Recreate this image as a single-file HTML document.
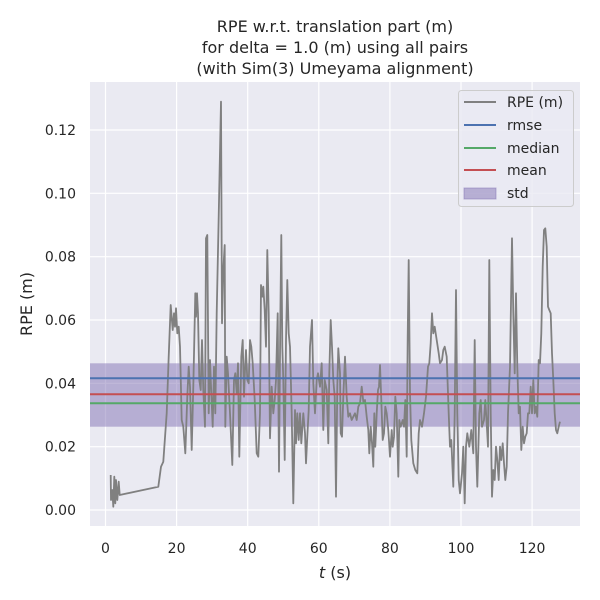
<!DOCTYPE html>
<html><head><meta charset="utf-8"><style>
html,body{margin:0;padding:0;background:#fff;}
svg{display:block;font-family:"DejaVu Sans","Liberation Sans",sans-serif;}
</style></head><body>
<svg id="s" width="600" height="600" viewBox="0 0 600 600">
<rect width="600" height="600" fill="#fff"/>
<rect x="90" y="82" width="490" height="444" fill="#eaeaf2"/>
<g stroke="#fff" stroke-width="1.2">
<line x1="105.5" y1="82" x2="105.5" y2="526"/><line x1="176.6" y1="82" x2="176.6" y2="526"/>
<line x1="247.7" y1="82" x2="247.7" y2="526"/><line x1="318.8" y1="82" x2="318.8" y2="526"/>
<line x1="389.9" y1="82" x2="389.9" y2="526"/><line x1="461" y1="82" x2="461" y2="526"/>
<line x1="532.1" y1="82" x2="532.1" y2="526"/>
<line x1="90" y1="510" x2="580" y2="510"/><line x1="90" y1="446.7" x2="580" y2="446.7"/>
<line x1="90" y1="383.3" x2="580" y2="383.3"/><line x1="90" y1="320" x2="580" y2="320"/>
<line x1="90" y1="256.7" x2="580" y2="256.7"/><line x1="90" y1="193.3" x2="580" y2="193.3"/>
<line x1="90" y1="130" x2="580" y2="130"/>
</g>
<rect x="90" y="363.3" width="490" height="63.4" fill="#8172b3" fill-opacity="0.5"/>
<polyline id="pl" fill="none" stroke="#808080" stroke-width="1.8" stroke-linejoin="round" points=""/>
<line x1="90" y1="378.3" x2="580" y2="378.3" stroke="#4c72b0" stroke-width="2"/>
<line x1="90" y1="403.3" x2="580" y2="403.3" stroke="#55a868" stroke-width="2"/>
<line x1="90" y1="394.3" x2="580" y2="394.3" stroke="#c44e52" stroke-width="2"/>
<g font-size="14" fill="#262626" text-anchor="end">
<text x="76" y="515">0.00</text><text x="76" y="451.7">0.02</text><text x="76" y="388.3">0.04</text>
<text x="76" y="325">0.06</text><text x="76" y="261.7">0.08</text><text x="76" y="198.3">0.10</text>
<text x="76" y="135">0.12</text>
</g>
<g font-size="14" fill="#262626" text-anchor="middle">
<text x="105.5" y="553">0</text><text x="176.6" y="553">20</text><text x="247.7" y="553">40</text>
<text x="318.8" y="553">60</text><text x="389.9" y="553">80</text><text x="461" y="553">100</text>
<text x="532.1" y="553">120</text>
<text x="335" y="578" font-size="16"><tspan font-style="italic">t</tspan> (s)</text>
<text x="335" y="32" font-size="16">RPE w.r.t. translation part (m)</text>
<text x="335" y="53" font-size="16">for delta = 1.0 (m) using all pairs</text>
<text x="335" y="74" font-size="16">(with Sim(3) Umeyama alignment)</text>
<text transform="translate(32,304) rotate(-90)" font-size="16">RPE (m)</text>
</g>
<rect x="458.5" y="90.5" width="115" height="116" rx="3" fill="#eaeaf2" fill-opacity="0.8" stroke="#cccccc"/>
<g stroke-width="2">
<line x1="464" y1="102" x2="496" y2="102" stroke="#808080"/>
<line x1="464" y1="125" x2="496" y2="125" stroke="#4c72b0"/>
<line x1="464" y1="148" x2="496" y2="148" stroke="#55a868"/>
<line x1="464" y1="170" x2="496" y2="170" stroke="#c44e52"/>
</g>
<rect x="464" y="188" width="32" height="11" fill="#8172b3" fill-opacity="0.5" stroke="#8172b3" stroke-opacity="0.5"/>
<g font-size="14" fill="#262626">
<text x="507" y="107">RPE (m)</text><text x="507" y="130">rmse</text><text x="507" y="153">median</text>
<text x="507" y="175">mean</text><text x="507" y="198">std</text>
</g>
</svg>
<script>
var a=[62,1185,63,1260,67,1230,70,1280,73,1190,76,1270,78,1200,82,1260,86,1205,89,1245,205,1220,213,1160,220,1145,230,1000,236,830,242,675,248,750,252,700,255,740,258,685,262,760,266,740,270,800,275,1020,280,1040,286,1120,292,950,296,860,300,920,305,1110,310,920,316,640,318,710,321,640,324,700,328,900,332,930,336,780,340,930,345,1040,348,475,352,465,356,1000,360,840,364,940,368,1040,372,860,376,1000,380,700,386,410,393,65,396,730,400,570,404,495,406,1040,410,830,414,880,420,1000,427,1155,432,900,436,880,440,940,444,850,448,1130,454,830,458,780,462,950,465,870,468,810,472,900,476,910,480,780,484,800,488,850,494,960,500,1120,505,1130,510,1000,513,615,517,650,520,620,524,690,528,800,532,510,536,700,540,1075,545,920,550,1000,554,960,558,900,563,700,567,1175,571,720,574,465,577,800,580,900,584,1140,588,780,592,600,596,760,600,800,605,1000,610,1270,615,990,618,1090,622,1000,626,1080,630,1000,634,1090,640,1000,645,1060,648,1150,652,1070,656,990,660,800,666,720,670,910,675,1000,680,900,684,880,690,920,695,850,700,1050,704,900,710,930,715,1090,718,880,722,720,726,800,730,900,734,950,738,1250,742,920,745,805];
var b=[30,880,32,1060,36,1070,40,950,45,830,50,950,55,1010,60,1000,65,1020,70,1010,75,1000,80,1020,85,980,90,970,95,920,100,965,105,960,110,1010,115,1050,118,1120,122,1040,126,1090,130,1160,133,1000,136,1100,140,1000,144,930,147,920,150,855,154,960,158,1080,162,1060,166,980,170,1000,175,1050,180,1130,185,1050,188,1100,192,1070,196,950,200,1000,205,1190,208,1020,212,1040,218,1020,222,1040,226,960,230,1130,233,770,236,540,240,940,244,1080,250,1150,256,1170,262,1180,266,1060,270,1020,276,1040,282,1000,288,950,294,860,298,850,302,790,306,700,310,760,314,740,320,780,326,820,330,850,336,840,340,810,344,800,350,830,356,1000,360,1100,364,1080,370,1220,374,1000,378,630,382,1000,386,1200,390,1240,396,1180,400,1100,404,1270,408,1100,412,1060,418,1100,424,1050,430,1120,434,780,438,1100,442,1220,448,1000,452,960,456,1040,462,1020,466,960,470,1030,474,1100,478,540,482,1000,486,1250,490,1170,494,1200,498,1100,502,1140,506,1200,510,1100,514,1140,518,1090,522,1150,526,1200,530,1160,534,1000,540,860,546,475,550,700,554,880,558,640,562,860,566,1000,570,980,574,1110,578,1040,582,1090,586,1070,590,1060,594,1000,598,1000,602,920,606,1000,610,900,614,1000,618,980,622,1010,626,840,630,850,634,760,638,560,642,450,646,445,650,500,654,680,658,690,662,700,666,820,670,900,674,1000,678,1050,682,1060,686,1040,690,1025];
var p=[],i;
for(i=0;i<a.length;i+=2)p.push((a[i]/3+90).toFixed(1)+","+(a[i+1]/3+80).toFixed(1));
for(i=0;i<b.length;i+=2)p.push((b[i]/3+330).toFixed(1)+","+(b[i+1]/3+80).toFixed(1));
document.getElementById("pl").setAttribute("points",p.join(" "));
</script>
</body></html>
